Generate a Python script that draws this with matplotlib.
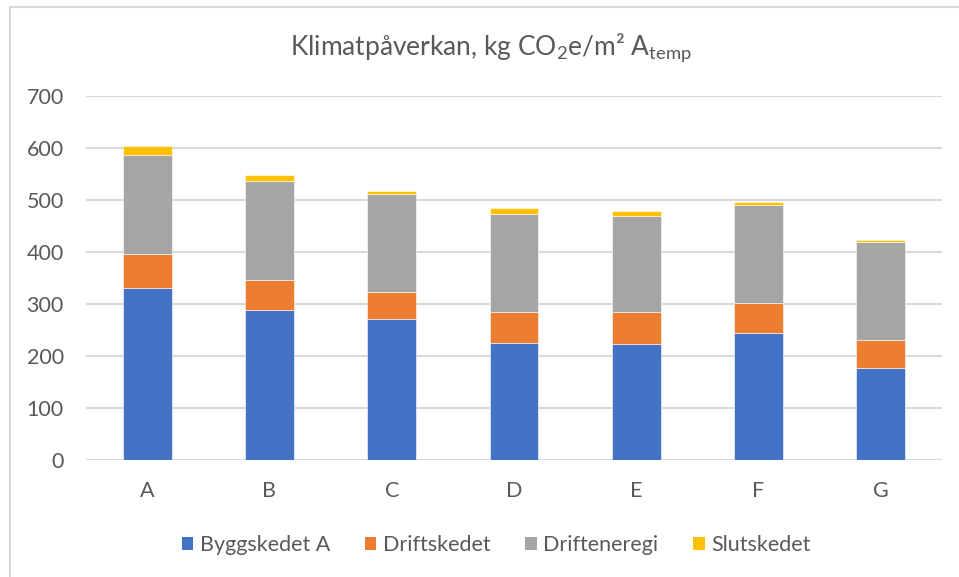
import matplotlib
matplotlib.use("Agg")
import matplotlib.pyplot as plt
from matplotlib.lines import Line2D
from matplotlib.patches import Patch
import numpy as np

plt.rcParams['font.family'] = ['Lato', 'DejaVu Sans']
plt.rcParams['mathtext.fontset'] = 'custom'
plt.rcParams['mathtext.rm'] = 'Lato'
plt.rcParams['mathtext.it'] = 'Lato'

categories = ['A', 'B', 'C', 'D', 'E', 'F', 'G']
series_names = ['Byggskedet A', 'Driftskedet', 'Drifteneregi', 'Slutskedet']
byggskedet = [331, 289, 272, 225, 223, 245, 176]
driftskedet = [66, 58, 51, 59, 61, 56, 54]
driftenergi = [190, 190, 188, 190, 186, 190, 190]
slutskedet = [17, 12, 7, 10, 8, 5, 4]
yticks = [0, 100, 200, 300, 400, 500, 600, 700]
colors = ['#4472C4', '#ED7D31', '#A5A5A5', '#FFC000']
text_color = '#595959'

W, H = 959, 577
fig = plt.figure(figsize=(W / 100, H / 100), dpi=100)
ax = fig.add_axes([86 / W, 1 - 460 / H, (942 - 86) / W, (460 - 96) / H])

x = np.arange(len(categories))
bottom = np.zeros(len(categories))
for vals, col, name in zip([byggskedet, driftskedet, driftenergi, slutskedet], colors, series_names):
    ax.bar(x, vals, width=0.4, bottom=bottom, color=col, label=name, zorder=3,
           edgecolor='white', linewidth=0.4)
    bottom += np.array(vals)

ax.set_xlim(-0.5, len(categories) - 0.5)
ax.set_ylim(0, 700)
ax.set_yticks(yticks)
ax.set_xticks(x)
ax.set_xticklabels(categories)
ax.grid(axis='y', color='#d9d9d9', linewidth=1.5, zorder=0)
for s in ax.spines.values():
    s.set_visible(False)
ax.tick_params(axis='both', length=0, labelsize=15.5, colors=text_color)
ax.tick_params(axis='y', pad=16)
ax.tick_params(axis='x', pad=15)

fig.text(491 / W, 1 - 48 / H,
         r'Klimatpåverkan, kg CO$_\mathregular{2}$e/m² A$_\mathregular{temp}$',
         ha='center', va='center', fontsize=19, color=text_color)

handles = [Patch(facecolor=c, edgecolor='none') for c in colors]
leg = fig.legend(handles, series_names, loc='center', bbox_to_anchor=(496 / W, 1 - 545 / H),
                 ncol=4, frameon=False, fontsize=15.5, handlelength=0.55, handleheight=0.55,
                 handletextpad=0.3, columnspacing=1.6)
for t in leg.get_texts():
    t.set_color(text_color)

# chart area border (partially visible)
fig.add_artist(Line2D([10 / W, 10 / W], [0, 1 - 7 / H], transform=fig.transFigure,
                      color='#d9d9d9', linewidth=1.5))
fig.add_artist(Line2D([10 / W, 1], [1 - 7 / H, 1 - 7 / H], transform=fig.transFigure,
                      color='#d9d9d9', linewidth=1.5))

fig.savefig('out.png', dpi=100)
